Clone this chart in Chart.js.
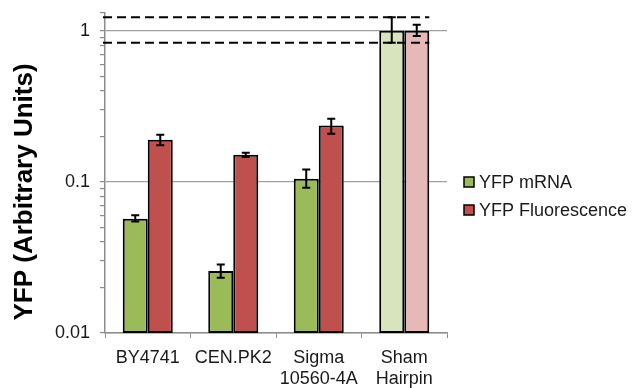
<!DOCTYPE html>
<html>
<head>
<meta charset="utf-8">
<script src="https://cdn.jsdelivr.net/npm/chart.js@4"></script>
<style>
  html, body { margin: 0; padding: 0; background: #fff; }
  #wrap { width: 642px; height: 388px; }
</style>
</head>
<body>
<div id="wrap"><canvas id="myChart" width="642" height="388"></canvas></div>
<script>
// values (log axis)
const strains = ["BY4741", "CEN.PK2", ["Sigma", "10560-4A"], ["Sham", "Hairpin"]];
const mrna = [0.057, 0.0257, 0.105, 1.0];
const mrnaLow = [0.0547, 0.0232, 0.0913, 0.833];
const mrnaHigh = [0.0601, 0.0284, 0.1206, 1.23];
const fluor = [0.19, 0.151, 0.236, 1.0];
const fluorLow = [0.1745, 0.146, 0.2085, 0.922];
const fluorHigh = [0.205, 0.156, 0.262, 1.096];
const dashLevels = [1.23, 0.833];
const yMin = 0.01, yMax = 1.31;
const yTitle = "YFP (Arbitrary Units)";

const green = "#9bbb59", greenPale = "#d7e4bd";
const red = "#c0504d", redPale = "#e6b9b8";
const FONT = "'Liberation Sans', Arial, sans-serif";

const isMajor = v => Math.abs(Math.log10(v) - Math.round(Math.log10(v))) < 1e-9;

const extras = {
  id: "extras",
  afterDatasetsDraw(chart) {
    const ctx = chart.ctx, y = chart.scales.y;
    const lows = [mrnaLow, fluorLow], highs = [mrnaHigh, fluorHigh];
    ctx.save();
    ctx.strokeStyle = "#000";
    ctx.lineWidth = 2;
    chart.data.datasets.forEach((ds, i) => {
      chart.getDatasetMeta(i).data.forEach((bar, j) => {
        const top = y.getPixelForValue(highs[i][j]);
        const bot = y.getPixelForValue(lows[i][j]);
        ctx.beginPath();
        ctx.moveTo(bar.x, top); ctx.lineTo(bar.x, bot);
        ctx.moveTo(bar.x - 4, top); ctx.lineTo(bar.x + 4, top);
        ctx.moveTo(bar.x - 4, bot); ctx.lineTo(bar.x + 4, bot);
        ctx.stroke();
      });
    });
    // dashed reference lines
    const last = chart.getDatasetMeta(1).data[3];
    const xEnd = last.x + last.width / 2;
    ctx.setLineDash([9, 5]);
    dashLevels.forEach(v => {
      const py = y.getPixelForValue(v);
      ctx.beginPath();
      ctx.moveTo(chart.chartArea.left - 2, py);
      ctx.lineTo(xEnd, py);
      ctx.stroke();
    });
    ctx.setLineDash([]);
    // legend
    ctx.font = "18px " + FONT;
    ctx.textBaseline = "middle";
    ctx.lineWidth = 1.5;
    chart.data.datasets.forEach((ds, i) => {
      const cy = 182 + i * 28;
      ctx.fillStyle = ds.backgroundColor[0];
      ctx.fillRect(464, cy - 5, 10, 10);
      ctx.strokeRect(464, cy - 5, 10, 10);
      ctx.fillStyle = "#1a1a1a";
      ctx.fillText(ds.label, 479, cy + 1);
    });
    // y axis title
    ctx.translate(25, 192);
    ctx.rotate(-Math.PI / 2);
    ctx.font = "bold 26px " + FONT;
    ctx.textAlign = "center";
    ctx.fillStyle = "#000";
    ctx.fillText(yTitle, 0, 0);
    ctx.restore();
  }
};

new Chart(document.getElementById("myChart").getContext("2d"), {
  type: "bar",
  data: {
    labels: strains,
    datasets: [{
      label: "YFP mRNA",
      data: mrna,
      backgroundColor: [green, green, green, greenPale],
      borderColor: "#000",
      borderWidth: 2,
      borderSkipped: false
    }, {
      label: "YFP Fluorescence",
      data: fluor,
      backgroundColor: [red, red, red, redPale],
      borderColor: "#000",
      borderWidth: 2,
      borderSkipped: false
    }]
  },
  options: {
    responsive: false,
    animation: false,
    layout: { padding: { left: 0, top: 13, right: 195, bottom: 0 } },
    datasets: { bar: { categoryPercentage: 0.585, barPercentage: 1 } },
    plugins: { legend: { display: false }, tooltip: { enabled: false } },
    scales: {
      x: {
        grid: { offset: true, drawOnChartArea: false, color: "#8c8c8c", tickLength: 5 },
        border: { color: "#8c8c8c", width: 1.5 },
        ticks: { color: "#1a1a1a", font: { family: FONT, size: 18, lineHeight: 1.2 }, padding: 9, maxRotation: 0 },
        afterFit(s) { s.height = 55; s.paddingLeft = 0; s.paddingRight = 0; }
      },
      y: {
        type: "logarithmic",
        min: yMin,
        max: yMax,
        afterBuildTicks(s) {
          const t = [];
          for (let e = -2; e <= 0; e++)
            for (let m = 1; m <= 9; m++) {
              const v = Number((m * Math.pow(10, e)).toPrecision(3));
              if (v <= yMax) t.push({ value: v });
            }
          t.push({ value: yMax });
          s.ticks = t;
        },
        grid: {
          color: c => (c.tick && isMajor(c.tick.value)) ? "#a0a0a0" : "rgba(0,0,0,0)",
          tickColor: "#8c8c8c",
          tickLength: 5,
          lineWidth: 1.2
        },
        border: { color: "#8c8c8c", width: 1.5 },
        ticks: {
          autoSkip: false,
          color: "#1a1a1a",
          font: { family: FONT, size: 18 },
          padding: 10,
          callback: v => isMajor(v) ? String(v) : ""
        },
        afterFit(s) { s.width = 105; s.paddingTop = 0; s.paddingBottom = 0; }
      }
    }
  },
  plugins: [extras]
});
</script>
</body>
</html>
